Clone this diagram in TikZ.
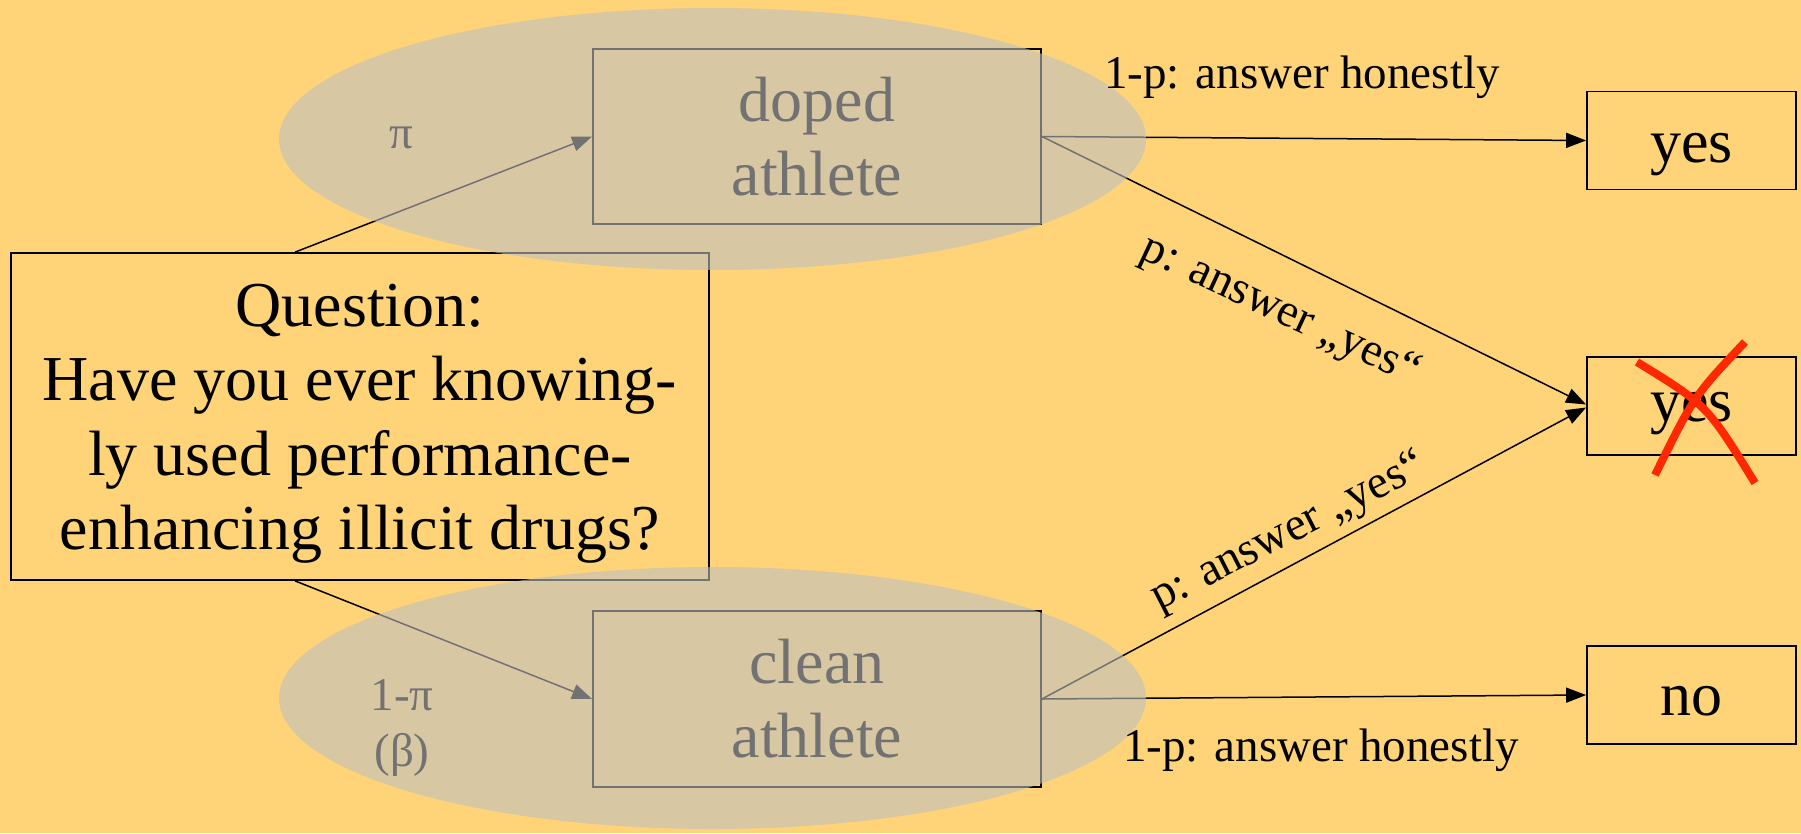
\documentclass[tikz,border=0pt]{standalone}
\usepackage{fontspec}
\setmainfont{Liberation Serif}
\usetikzlibrary{arrows.meta}
\definecolor{bg}{RGB}{255,212,121}
\definecolor{veil}{RGB}{191,191,191}
\definecolor{xred}{RGB}{255,40,0}
\begin{document}
\begin{tikzpicture}[x=1pt,y=-1pt,
  box/.style={draw=black,line width=1.8pt,inner sep=0pt,align=center,font=\fontsize{64}{74}\selectfont},
  ansbox/.style={box,minimum width=209pt,minimum height=98pt,font=\fontsize{62}{70}\selectfont},
  conn/.style={line width=1.5pt,-{Triangle[length=20pt,width=15pt]}},
  lbl/.style={font=\fontsize{47}{56}\selectfont,inner sep=0pt,align=center},
  veiled/.style={fill=veil,fill opacity=0.6},
  cross/.style={draw=xred,line width=8pt}]
\useasboundingbox (0,0) rectangle (1801,833);
\fill[bg] (0,0) rectangle (1801,833);
% left part (later covered by the veils)
\node[box,minimum width=698pt,minimum height=327pt] (q) at (360,416.5)
  {\raisebox{-7pt}[\height][\depth]{\parbox{690pt}{\centering\fontsize{64}{74.5}\selectfont Question:\\Have you ever knowing-\\ly used performance-\\enhancing illicit drugs?}}};
\node[box,minimum width=448pt,minimum height=175pt] (doped) at (817,136.5) {doped\\athlete};
\node[box,minimum width=448pt,minimum height=176pt] (clean) at (817,699) {clean\\athlete};
\node[lbl] (pi) at (401,138) {π};
\node[lbl] (onepi) at (402,695) {1-π};
\node[lbl] (beta) at (402,755) {(β)};
% answer boxes
\node[ansbox] (yes1) at (1691.5,140.5) {\raisebox{-14pt}[\height][\depth]{yes}};
\node[ansbox] (yes2) at (1691.5,406) {\raisebox{-8pt}[\height][\depth]{yes}};
\node[ansbox] (no) at (1691.5,695) {\raisebox{-6pt}[\height][\depth]{no}};
% connectors
\draw[conn] ([xshift=285pt]q.north west) -- (doped.west);
\draw[conn] ([xshift=285pt]q.south west) -- (clean.west);
\draw[conn] (doped.east) -- (yes1.west);
\draw[conn] (doped.east) -- ([yshift=1.5pt]yes2.west);
\draw[conn] (clean.east) -- ([yshift=-1.5pt]yes2.west);
\draw[conn] (clean.east) -- (no.west);
% veils
\fill[veiled] (712.5,139) ellipse [x radius=433.5pt, y radius=131pt];
\fill[veiled] (712.5,698) ellipse [x radius=433.5pt, y radius=131pt];
% branch labels
\node[lbl] (hon1) at (1302,77) {1-p: answer honestly};
\node[lbl] (hon2) at (1321,750) {1-p: answer honestly};
\node[lbl,rotate=-25] (py1) at (1280,312) {p: answer „yes“};
\node[lbl,rotate=27] (py2) at (1289,533) {p: answer „yes“};
% red cross
\draw[cross] (1637,362) .. controls (1707,405) .. (1755,483);
\draw[cross] (1745,342) .. controls (1694,396) .. (1655,475);
\end{tikzpicture}
\end{document}
